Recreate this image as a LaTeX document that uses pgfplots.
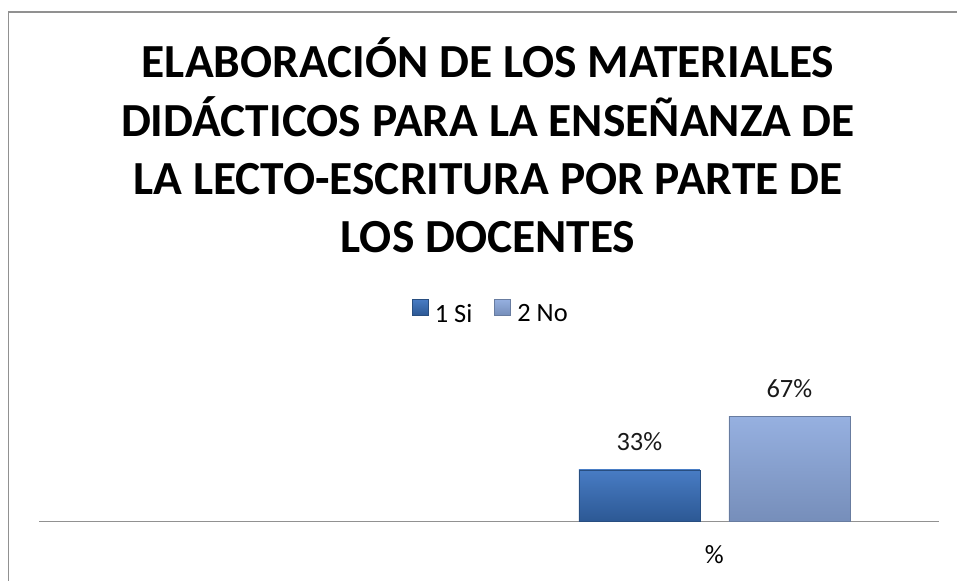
\documentclass[border=0pt]{standalone}
\usepackage{fontspec}
\setmainfont{Carlito}
\usepackage{pgfplots}
\pgfplotsset{compat=1.18}

\definecolor{siTop}{RGB}{72,124,196}
\definecolor{siBot}{RGB}{44,88,148}
\definecolor{siEdge}{RGB}{40,78,128}
\definecolor{noTop}{RGB}{150,176,224}
\definecolor{noBot}{RGB}{118,142,186}
\definecolor{noEdge}{RGB}{104,124,160}
\definecolor{frameGray}{RGB}{145,145,145}

\begin{document}
\begin{tikzpicture}
  % page = 957 x 581 px at 0.75pt per px
  \path[use as bounding box] (0,0) rectangle (717.75pt,435.75pt);
  \draw[frameGray, line width=1.1pt] (6.4pt,0) -- (6.4pt,426.75pt) -- (717.75pt,426.75pt);

  \begin{scope}[font=\fontsize{35.6pt}{43.9pt}\selectfont\bfseries]
    \node[anchor=base] at (366pt,377.25pt) {ELABORACIÓN DE LOS MATERIALES};
    \node[anchor=base] at (366pt,333pt) {DIDÁCTICOS PARA LA ENSEÑANZA DE};
    \node[anchor=base] at (366pt,289.5pt) {LA LECTO-ESCRITURA POR PARTE DE};
    \node[anchor=base] at (366pt,246pt) {LOS DOCENTES};
  \end{scope}

  \begin{axis}[
      at={(29.5pt,44.5pt)}, anchor=south west,
      scale only axis, width=675pt, height=117.5pt,
      ybar=21.75pt, bar width=90.75pt,
      xmin=-0.5, xmax=1.5, ymin=0, ymax=100,
      axis y line=none, axis x line=bottom,
      x axis line style={-, frameGray, line width=1.1pt},
      xtick={0,1}, xticklabels={,\%}, major tick length=0pt,
      xticklabel style={anchor=base, yshift=-31.7pt,
        font=\fontsize{19.8pt}{23pt}\selectfont},
      /pgf/number format/assume math mode=true,
      nodes near coords={\pgfmathprintnumber{\pgfplotspointmeta}\%},
      every node near coord/.append style={anchor=base, yshift=14.75pt,
        font=\fontsize{19.8pt}{23pt}\selectfont, text=black!90},
      legend columns=2,
      legend style={draw=none, fill=none, at={(0.502,1.332)}, anchor=center,
        font=\fontsize{19.8pt}{23pt}\selectfont,
        /tikz/every even column/.append style={column sep=14.5pt}},
      legend image code/.code={%
        \path[#1] (0pt,-0.75pt) rectangle (12pt,11.25pt);
        \pgfpathmoveto{\pgfqpoint{15pt}{0pt}}\pgfusepath{discard}},
    ]
    \addplot[top color=siTop, bottom color=siBot, draw=siEdge]
      coordinates {(1,33)};
    \addplot[top color=noTop, bottom color=noBot, draw=noEdge]
      coordinates {(1,67)};
    \legend{1 Si, 2 No}
  \end{axis}
\end{tikzpicture}
\end{document}
